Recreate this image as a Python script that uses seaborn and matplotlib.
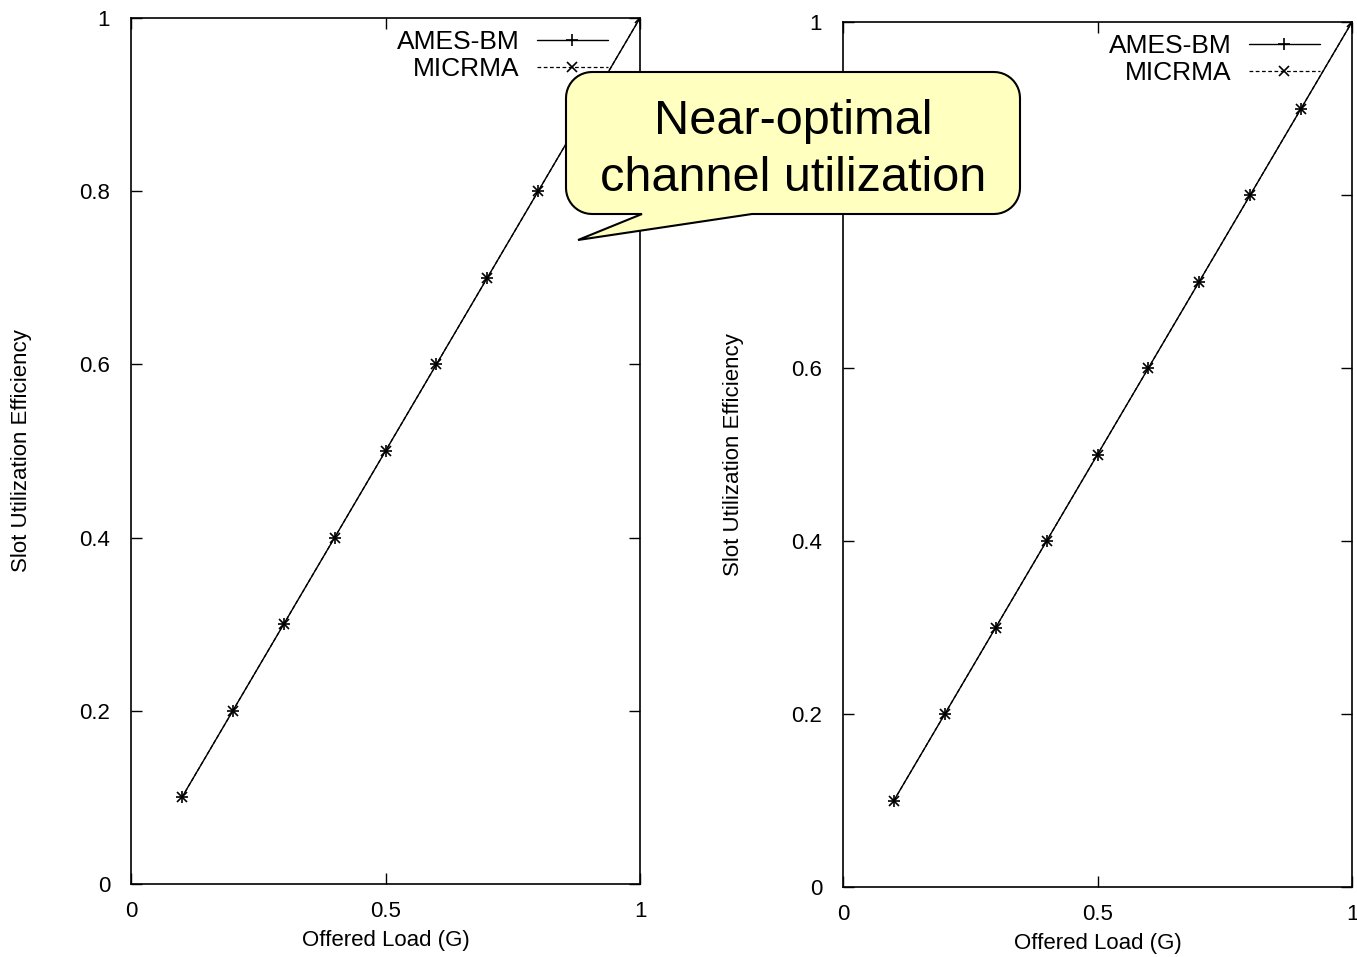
import numpy as np
import seaborn as sns
import matplotlib.pyplot as plt
from matplotlib.patches import Polygon

# Data (both protocols sit on the y = x line)
offered_load = [0.1, 0.2, 0.3, 0.4, 0.5, 0.6, 0.7, 0.8, 0.9, 1.0]
ames_left = [0.1, 0.2, 0.3, 0.4, 0.5, 0.6, 0.7, 0.8, 0.9, 1.0]
micrma_left = [0.1, 0.2, 0.3, 0.4, 0.5, 0.6, 0.7, 0.8, 0.9, 1.0]
ames_right = [0.1, 0.2, 0.3, 0.4, 0.5, 0.6, 0.7, 0.8, 0.9, 1.0]
micrma_right = [0.1, 0.2, 0.3, 0.4, 0.5, 0.6, 0.7, 0.8, 0.9, 1.0]
x_ticks = [0, 0.5, 1]
x_tick_labels = ['0', '0.5', '1']
y_ticks = [0, 0.2, 0.4, 0.6, 0.8, 1]
y_tick_labels = ['0', '0.2', '0.4', '0.6', '0.8', '1']
callout_text = 'Near-optimal\nchannel utilization'

sns.set_style('ticks')
plt.rcParams['font.family'] = ['Liberation Sans', 'DejaVu Sans']
plt.rcParams['text.color'] = 'black'

W, H = 1357, 957
fig = plt.figure(figsize=(W / 100, H / 100), dpi=100)


def px_axes(x0, y0, x1, y1):
    # axes from pixel box (top-left origin)
    return fig.add_axes([x0 / W, 1 - y1 / H, (x1 - x0) / W, (y1 - y0) / H])


def draw_panel(ax, ames, micrma):
    sns.lineplot(x=offered_load, y=ames, color='black', linewidth=1.0,
                 marker='+', markersize=9, markeredgewidth=1.2,
                 markeredgecolor='black', label='AMES-BM', ax=ax)
    sns.lineplot(x=offered_load, y=micrma, color='black', linewidth=0.9,
                 linestyle=(0, (3, 2)), marker='x', markersize=7,
                 markeredgewidth=1.2, markeredgecolor='black',
                 label='MICRMA', ax=ax)
    ax.set_xlim(0, 1)
    ax.set_ylim(0, 1)
    ax.set_xticks(x_ticks)
    ax.set_xticklabels(x_tick_labels)
    ax.set_yticks(y_ticks)
    ax.set_yticklabels(y_tick_labels)
    ax.tick_params(direction='in', top=True, right=True, length=8,
                   width=1, labelsize=16, colors='black')
    ax.tick_params(axis='x', pad=12)
    ax.tick_params(axis='y', pad=15)
    for s in ax.spines.values():
        s.set_visible(True)
        s.set_linewidth(1.2)
        s.set_color('black')
    ax.set_xlabel('Offered Load (G)', fontsize=16, labelpad=6, color='black')
    ax.set_ylabel('Slot Utilization Efficiency', fontsize=16, labelpad=34,
                  color='black')
    leg = ax.legend(loc='upper right', bbox_to_anchor=(0.937, 0.986), frameon=False,
                    markerfirst=False, fontsize=19, handlelength=2.7,
                    labelspacing=0.1, handletextpad=0.65, borderaxespad=0,
                    borderpad=0)
    for t in leg.get_texts():
        t.set_ha('right')


ax1 = px_axes(131, 18, 640, 884)
draw_panel(ax1, ames_left, micrma_left)
ax2 = px_axes(843, 22, 1352, 887)
draw_panel(ax2, ames_right, micrma_right)
# the 0.8 label of the right panel sits under the callout
ax2.get_yticklabels()[4].set_visible(False)

# Speech-bubble callout in pixel coordinates
left, right, top, bottom, r = 566, 1020, 72, 214, 26
pts = []
for cx, cy, a0 in [(right - r, top + r, -90), (right - r, bottom - r, 0),
                   (left + r, bottom - r, 90), (left + r, top + r, 180)]:
    ang = np.radians(np.linspace(a0, a0 + 90, 12))
    pts.extend(zip(cx + r * np.cos(ang), cy + r * np.sin(ang)))
    if a0 == 0:
        # bottom edge going right-to-left: add the pointer
        pts.extend([(752, bottom), (578, 240), (642, bottom)])
pts = [(x / W, 1 - y / H) for x, y in pts]
fig.patches.append(Polygon(pts, closed=True, transform=fig.transFigure,
                           facecolor='#ffffc0', edgecolor='black',
                           linewidth=1.5, zorder=10))
fig.text((left + right) / 2 / W, 1 - 150 / H, callout_text, ha='center',
         va='center', fontsize=35, linespacing=1.35, color='black', zorder=11)

fig.savefig('out.png', dpi=100)
